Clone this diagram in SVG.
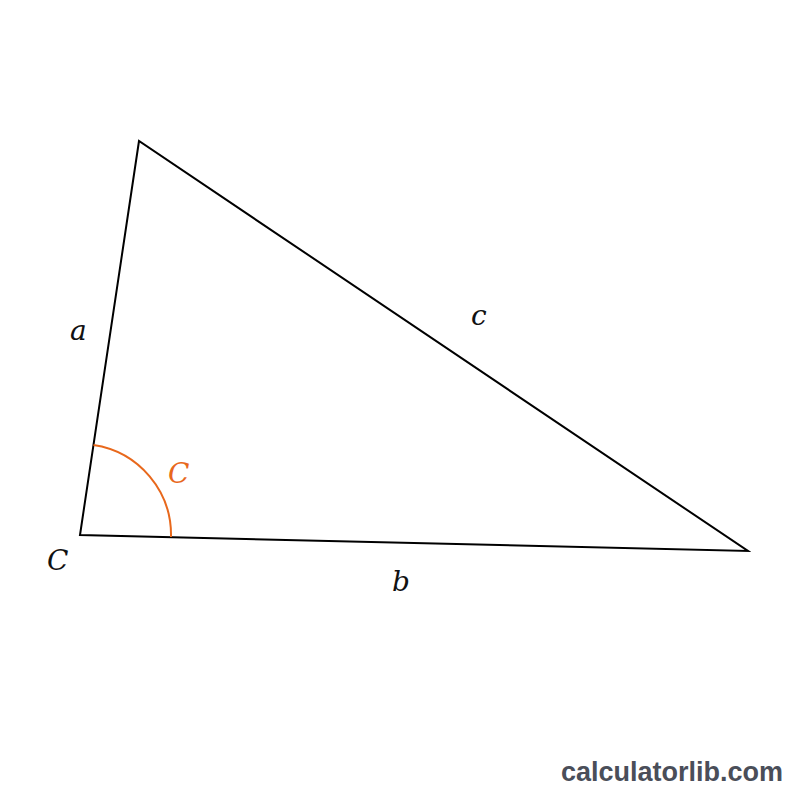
<svg xmlns="http://www.w3.org/2000/svg" width="800" height="800" viewBox="0 0 800 800">
<style>
.lbl{font-family:"DejaVu Serif","Noto Serif",serif;font-style:italic;font-size:28px;fill:#111;}
.edge{fill:none;stroke:#000;stroke-width:2;stroke-linejoin:miter;}
</style>
<rect width="800" height="800" fill="#fff"/>
<g id="connectors">
<polygon class="edge" points="139,141 80,535 748,551"/>
<path d="M171,537 A91,91 0 0 0 93.5,445" fill="none" stroke="#e8681c" stroke-width="2"/>
</g>
<g id="labels">
<text class="lbl" x="70" y="340">a</text>
<text class="lbl" x="471" y="325">c</text>
<text class="lbl" x="392" y="591">b</text>
<text class="lbl" x="47" y="570">C</text>
<text class="lbl" x="168" y="483" style="fill:#e8681c">C</text>
</g>
<text x="783" y="781" text-anchor="end" font-family="Liberation Sans, Arial, sans-serif" font-weight="bold" font-size="27" fill="#4a4e59">calculatorlib.com</text>
</svg>
